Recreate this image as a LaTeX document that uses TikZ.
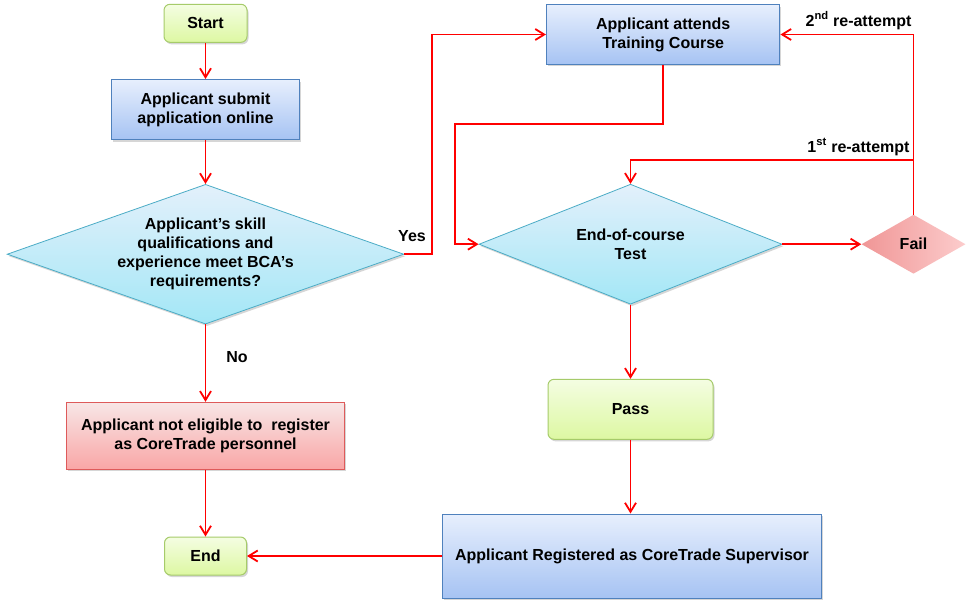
\documentclass[tikz,border=0pt]{standalone}
\usepackage{fontspec}
\setmainfont{Liberation Sans}
\usetikzlibrary{shapes.geometric,arrows.meta,shadows}
\definecolor{greentop}{HTML}{F4FDE2}
\definecolor{greenbot}{HTML}{DDF8A2}
\definecolor{greenline}{HTML}{A6CB6A}
\definecolor{bluetop}{HTML}{E7EFFD}
\definecolor{bluebot}{HTML}{A6C3F3}
\definecolor{blueline}{HTML}{4F81BD}
\definecolor{cyantop}{HTML}{E3F0FB}
\definecolor{cyanbot}{HTML}{A3E7F6}
\definecolor{cyanline}{HTML}{4BACC6}
\definecolor{pinktop}{HTML}{F8E6E6}
\definecolor{pinkbot}{HTML}{F9A6A6}
\definecolor{pinkline}{HTML}{DE5A5A}
\definecolor{failleft}{HTML}{F09696}
\definecolor{failright}{HTML}{FCCCCC}
\definecolor{arrred}{HTML}{FF0000}
\begin{document}
\begin{tikzpicture}[x=1pt,y=1pt,
  every node/.style={font=\bfseries\fontsize{16}{19}\selectfont, align=center, inner sep=0pt},
  shad/.style={drop shadow={shadow xshift=1.5pt, shadow yshift=-2pt, fill=black!35, opacity=0.45}},
  greenbox/.style={shape=rectangle, rounded corners=6pt, draw=greenline, line width=1pt, top color=greentop, bottom color=greenbot, shad},
  bluebox/.style={shape=rectangle, draw=blueline, line width=1pt, top color=bluetop, bottom color=bluebot, shad},
  pinkbox/.style={shape=rectangle, draw=pinkline, line width=1pt, top color=pinktop, bottom color=pinkbot, shad},
  cyandiamond/.style={shape=diamond, draw=cyanline, line width=0.8pt, top color=cyantop, bottom color=cyanbot, shad},
  faildiamond/.style={shape=diamond, left color=failleft, right color=failright},
  lbl/.style={},
  arr/.style={draw=arrred, line width=1.8pt, -{Straight Barb[length=9pt,width=11pt,line width=1.8pt]}}]
\useasboundingbox (0,0) rectangle (967,-606);
\fill[white] (0,0) rectangle (967,-606);

% left column
\node[greenbox, minimum width=83pt, minimum height=38pt] (start) at (205.5,-23.3) {Start};
\node[bluebox, minimum width=188pt, minimum height=60pt] (submit) at (205.5,-109.5) {Applicant submit\\application online};
\node[cyandiamond, aspect=2.84, minimum width=396.6pt, minimum height=139.7pt] (q) at (205.5,-254.2) {Applicant’s skill\\qualifications and\\experience meet BCA’s\\requirements?};
\node[pinkbox, minimum width=278pt, minimum height=67pt] (noelig) at (205.5,-435.8) {Applicant not eligible to\ \ register\\as CoreTrade personnel};
\node[greenbox, minimum width=82pt, minimum height=38pt] (end) at (205.5,-556) {End};

% right part
\node[bluebox, minimum width=233.5pt, minimum height=59.6pt] (train) at (663.2,-34.5) {Applicant attends\\Training Course};
\node[cyandiamond, aspect=2.52, minimum width=303pt, minimum height=120pt] (test) at (630.5,-244.2) {End-of-course\\Test};
\node[faildiamond, aspect=1.76, minimum width=104pt, minimum height=59pt] (fail) at (913.5,-244.2) {Fail};
\node[greenbox, minimum width=165pt, minimum height=60pt] (pass) at (630.5,-409.3) {Pass};
\node[bluebox, minimum width=379pt, minimum height=84pt] (reg) at (632,-556) {Applicant Registered as CoreTrade Supervisor};

% labels
\node[lbl] (yes) at (412,-236.5) {Yes};
\node[lbl] (no) at (237,-356.7) {No};
\node[lbl] (lab2) at (858.5,-20.7) {2\textsuperscript{nd} re-attempt};
\node[lbl] (lab1) at (858.5,-147) {1\textsuperscript{st} re-attempt};

% helper coordinates
\coordinate (c1) at (455,-124);
\coordinate (r1) at (913.5,-160);

% connectors
\draw[arr] (start.south) -- (submit.north);
\draw[arr] (submit.south) -- (q.north);
\draw[arr] (q.south) -- (noelig.north);
\draw[arr] (noelig.south) -- (end.north);
\draw[arr] (q.east) -- ++(28,0) |- (train.west);
\draw[arr] (train.south) |- (c1) |- (test.west);
\draw[arr] (test.east) -- (fail.west);
\draw[arr] (fail.north) |- (train.east);
\draw[arr] (r1) -| (test.north);
\draw[arr] (test.south) -- (pass.north);
\draw[arr] (pass.south) -- (pass.south |- reg.north);
\draw[arr] (reg.west) -- (end.east);
\end{tikzpicture}
\end{document}
